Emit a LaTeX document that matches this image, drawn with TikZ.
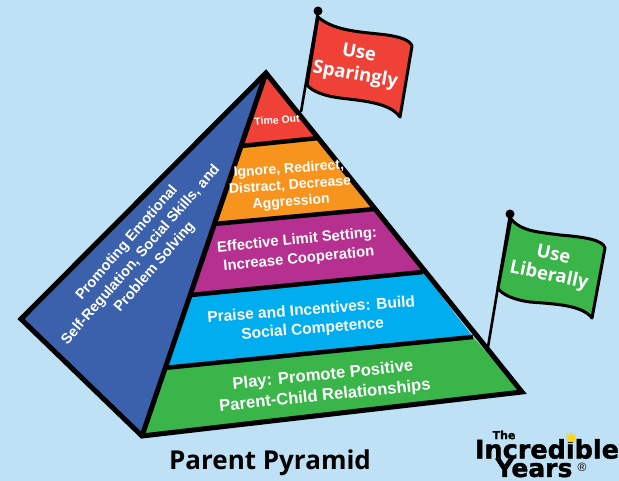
\documentclass[tikz,border=0pt]{standalone}
\usepackage{fontspec}
\setmainfont{Liberation Sans}
\newfontfamily\flagfont{Open Sans}
\newfontfamily\logofont[BoldFeatures={FakeBold=1.5}]{DejaVu Sans}
\usepackage{xcolor}
\definecolor{skybg}{HTML}{BEE1F5}
\definecolor{tierred}{HTML}{EF4136}
\definecolor{tierorange}{HTML}{F7941D}
\definecolor{tierpurple}{HTML}{B5308F}
\definecolor{tierblue}{HTML}{00AEEF}
\definecolor{tiergreen}{HTML}{39B54A}
\definecolor{sideblue}{HTML}{3B60AC}
\definecolor{crownyellow}{HTML}{F9D71C}
\tikzset{
    outline/.style={draw=black, line width=5pt, line join=miter},
    tierline/.style={draw=black, line width=4.5pt},
    flagcloth/.style={draw=black, line width=3pt, line join=round},
    pole/.style={draw=black, line width=2.6pt},
    tiertext/.style={text=white, align=center, inner sep=0pt},
    flagtext/.style={text=white, align=center, inner sep=0pt},
    logotext/.style={inner sep=0pt}
}

\begin{document}
\begin{tikzpicture}[x=1pt, y=-1pt]
    \fill[skybg] (0, 0) rectangle (619, 481);
    \useasboundingbox (0, 0) rectangle (619, 481);

    % pyramid
    \coordinate (apex) at (266, 73);
    \coordinate (backleft) at (21, 319);
    \coordinate (frontleft) at (142, 436);
    \coordinate (frontright) at (522, 392);

    \fill[sideblue] (apex) -- (backleft) -- (frontleft) -- cycle;
    \fill[tiergreen] (frontleft) -- (frontright) -- (473, 337) -- (164, 368) -- cycle;
    \fill[tierblue] (164, 368) -- (473, 337) -- (423, 272) -- (191, 295) -- cycle;
    \fill[tierpurple] (191, 295) -- (423, 272) -- (375, 209) -- (214, 224) -- cycle;
    \fill[tierorange] (214, 224) -- (375, 209) -- (319, 138) -- (241, 146) -- cycle;
    \fill[tierred] (241, 146) -- (319, 138) -- (apex) -- cycle;

    \draw[tierline] (241, 146) -- (319, 138);
    \draw[tierline] (214, 224) -- (375, 209);
    \draw[tierline] (191, 295) -- (423, 272);
    \draw[tierline] (164, 368) -- (473, 337);
    \draw[outline] (apex) -- (frontleft);
    \draw[outline] (apex) -- (backleft) -- (frontleft) -- (frontright) -- cycle;

    % tier labels
    \node[tiertext, rotate=4, font=\bfseries\fontsize{10.5}{12}\selectfont] (timeout) at (277, 120) {Time Out};
    \node[tiertext, rotate=4, font=\bfseries\fontsize{14}{16.5}\selectfont] (ignore) at (290, 186) {Ignore, Redirect,\\Distract, Decrease\\Aggression};
    \node[tiertext, rotate=5.5, font=\bfseries\fontsize{14.8}{19}\selectfont] (limit) at (298, 250) {Effective Limit Setting:\\Increase Cooperation};
    \node[tiertext, rotate=4.5, font=\bfseries\fontsize{15.5}{19}\selectfont] (praise) at (312, 320) {Praise and Incentives: Build\\Social Competence};
    \node[tiertext, rotate=5.8, font=\bfseries\fontsize{16.6}{20.5}\selectfont] (play) at (324, 386) {Play: Promote Positive\\Parent-Child Relationships};
    \node[tiertext, rotate=49, font=\bfseries\fontsize{14.5}{18.5}\selectfont] (side) at (141, 255) {Promoting Emotional\\Self-Regulation, Social Skills, and\\Problem Solving};

    % red flag
    \draw[pole] (318, 12) -- (301, 112);
    \fill[black] (318, 11) circle (4.5);
    \draw[flagcloth, fill=tierred] (318, 17) .. controls (335, 32) and (365, 32) .. (387, 35)
        .. controls (400, 37) and (410, 40) .. (412, 46) -- (400, 117)
        .. controls (390, 103) and (365, 101) .. (340, 98)
        .. controls (325, 96) and (313, 92) .. (307, 85) -- cycle;
    \node[flagtext, rotate=-10, font=\flagfont\bfseries\fontsize{18.5}{22}\selectfont] (sparingly) at (357, 65) {Use\\Sparingly};

    % green flag
    \draw[pole] (510, 215) -- (488, 347);
    \fill[black] (510, 214) circle (4.5);
    \draw[flagcloth, fill=tiergreen] (511, 219) .. controls (522, 232) and (540, 232) .. (560, 235)
        .. controls (585, 237) and (603, 240) .. (605, 248) -- (592, 318)
        .. controls (582, 305) and (555, 304) .. (530, 302)
        .. controls (515, 300) and (502, 295) .. (498, 288) -- cycle;
    \node[flagtext, rotate=-12, font=\flagfont\bfseries\fontsize{18.5}{21}\selectfont] (liberally) at (551, 266) {Use\\Liberally};

    % title and logo
    \node[font=\flagfont\bfseries\fontsize{26}{30}\selectfont, inner sep=0pt] (title) at (270, 463) {Parent Pyramid};
    \node[logotext, font=\logofont\bfseries\fontsize{11}{12}\selectfont] (logothe) at (504, 435) {The};
    \node[logotext, font=\logofont\bfseries\fontsize{25.5}{28}\selectfont] (logoname) at (547, 449) {Incredible};
    \node[logotext, font=\logofont\bfseries\fontsize{25}{28}\selectfont] (logoyears) at (534, 468) {Years};
    \node[logotext, font=\fontsize{12}{13}\selectfont] (logoreg) at (582, 467) {\textregistered};
    \fill[crownyellow] (567, 438) -- (566, 433) -- (569, 436) -- (571, 432) -- (573, 436) -- (576, 433) -- (575, 438) -- (575, 442) -- (567, 442) -- cycle;
\end{tikzpicture}
\end{document}
